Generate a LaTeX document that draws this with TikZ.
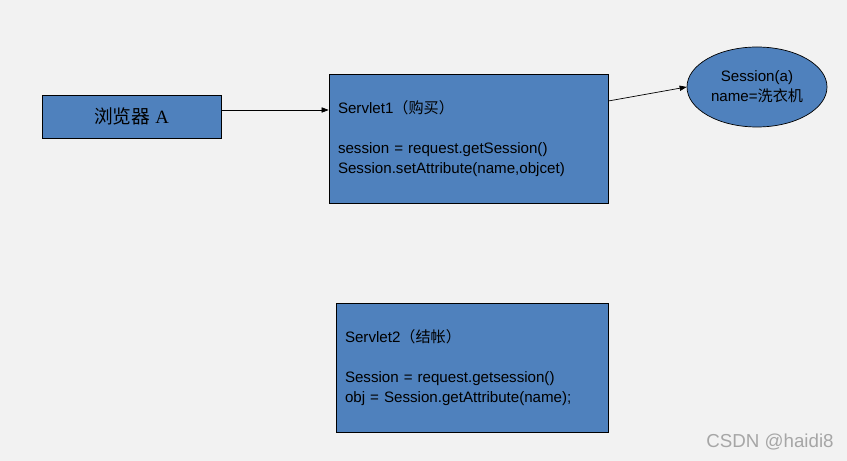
\documentclass[tikz,border=0pt]{standalone}
\usepackage{fontspec}
\setmainfont{Liberation Sans}
\newfontfamily\cjk{Noto Sans CJK SC}
\newfontfamily\serifA{Liberation Serif}
\usetikzlibrary{shapes.geometric, arrows.meta}
\definecolor{boxblue}{HTML}{4F81BD}
\definecolor{paper}{HTML}{F2F2F2}

\begin{document}
\begin{tikzpicture}[x=0.03cm, y=-0.03cm,
    box/.style={draw=black, fill=boxblue, line width=0.6pt, inner sep=0pt},
    codebox/.style={box, align=left, inner xsep=0.27cm, minimum height=3.87cm,
        font=\fontsize{12.9}{17}\selectfont},
    link/.style={line width=0.6pt, -{Triangle[length=6pt, width=4.5pt]}}]
    % Background
    \fill[paper] (0,0) rectangle (847,461);
    \useasboundingbox (0,0) rectangle (847,461);
    % Browser
    \node[box, minimum width=5.37cm, minimum height=1.29cm,
        font=\fontsize{16}{18}\selectfont] (browser) at (131.5,116.5) {{\cjk 浏览器} {\serifA A}};
    % Servlet1
    \node[codebox, text width=7.83cm] (servlet1) at (468.5,138.5)
        {Servlet1{\cjk （购买）}\\[17pt]
         session = request.getSession()\\
         Session.setAttribute(name,objcet)};
    % Session object
    \node[box, ellipse, minimum width=4.2cm, minimum height=2.4cm, align=center,
        font=\fontsize{12.9}{17}\selectfont] (session) at (757,87)
        {Session(a)\\ name={\cjk 洗衣机}};
    % Servlet2
    \node[codebox, text width=7.62cm] (servlet2) at (472,367.5)
        {Servlet2{\cjk （结帐）}\\[17pt]
         Session = request.getsession()\\
         obj = Session.getAttribute(name);};
    % Arrows
    \draw[link] ([yshift=0.195cm]browser.east) -- ([yshift=0.195cm]browser.east -| servlet1.west);
    \draw[link] ([yshift=1.125cm]servlet1.east) -- (session.west);
    % Watermark
    \node[text=black!35, font=\fontsize{16}{18}\selectfont] (mark) at (770,442) {CSDN @haidi8};
\end{tikzpicture}
\end{document}
